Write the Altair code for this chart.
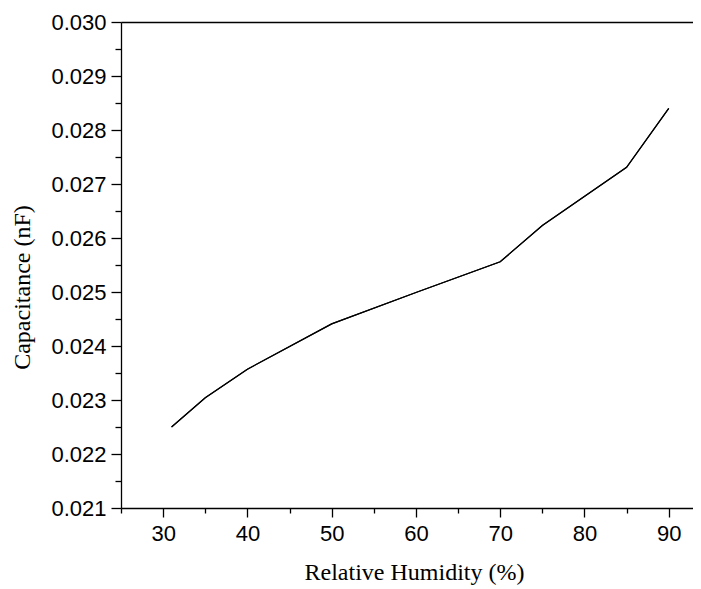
import altair as alt
import pandas as pd

humidity = [31, 35, 40, 50, 60, 70, 75, 85, 90]
capacitance = [0.02250, 0.02304, 0.02357, 0.02441, 0.02499, 0.02556, 0.02623, 0.02731, 0.02840]

x_ticks = [25, 30, 35, 40, 45, 50, 55, 60, 65, 70, 75, 80, 85, 90]
y_ticks = [0.021, 0.0215, 0.022, 0.0225, 0.023, 0.0235, 0.024, 0.0245, 0.025, 0.0255,
           0.026, 0.0265, 0.027, 0.0275, 0.028, 0.0285, 0.029, 0.0295, 0.030]

df = pd.DataFrame({"h": humidity, "c": capacitance})

x_scale = alt.Scale(domain=[25, 92.88], nice=False, zero=False)
y_scale = alt.Scale(domain=[0.021, 0.030], nice=False, zero=False)

major_x = "round(datum.value) % 10 == 0"
major_y = "round(datum.value * 10000) % 10 == 0"

base = alt.Chart(df).mark_line(color="black", strokeWidth=1.2, clip=True)

main = base.encode(
    x=alt.X("h:Q", scale=x_scale,
            axis=alt.Axis(orient="bottom", values=x_ticks, title="Relative Humidity (%)",
                          labelExpr=f"{major_x} ? datum.label : ''",
                          tickSize={"condition": {"test": major_x, "value": 9}, "value": 5},
                          labelPadding=6, titlePadding=16, titleX=293)),
    y=alt.Y("c:Q", scale=y_scale,
            axis=alt.Axis(orient="left", values=y_ticks, format=".3f", title="Capacitance (nF)",
                          labelExpr=f"{major_y} ? datum.label : ''",
                          tickSize={"condition": {"test": major_y, "value": 10}, "value": 6},
                          labelPadding=5, titlePadding=16, titleY=265)),
)

top = base.encode(
    x=alt.X("h:Q", scale=x_scale,
            axis=alt.Axis(orient="top", ticks=False, labels=False, title=None)),
    y=alt.Y("c:Q", scale=y_scale,
            axis=alt.Axis(orient="left", ticks=False, labels=False, title=None, domain=False)),
)

chart = alt.layer(main, top).resolve_axis(x="independent", y="independent").properties(
    width=572, height=486,
    autosize=alt.AutoSizeParams(type="none"),
    padding={"left": 113, "top": 14, "right": 0, "bottom": 78},
).configure_view(stroke=None).configure_axis(
    grid=False,
    domainColor="black", domainWidth=1.3,
    tickColor="black", tickWidth=1.3,
    labelColor="black", labelFont="Liberation Sans", labelFontSize=22,
    titleColor="black", titleFont="Liberation Serif", titleFontSize=24, titleFontWeight="normal",
)

chart.save("out.html", embed_options={"renderer": "svg", "actions": False})
